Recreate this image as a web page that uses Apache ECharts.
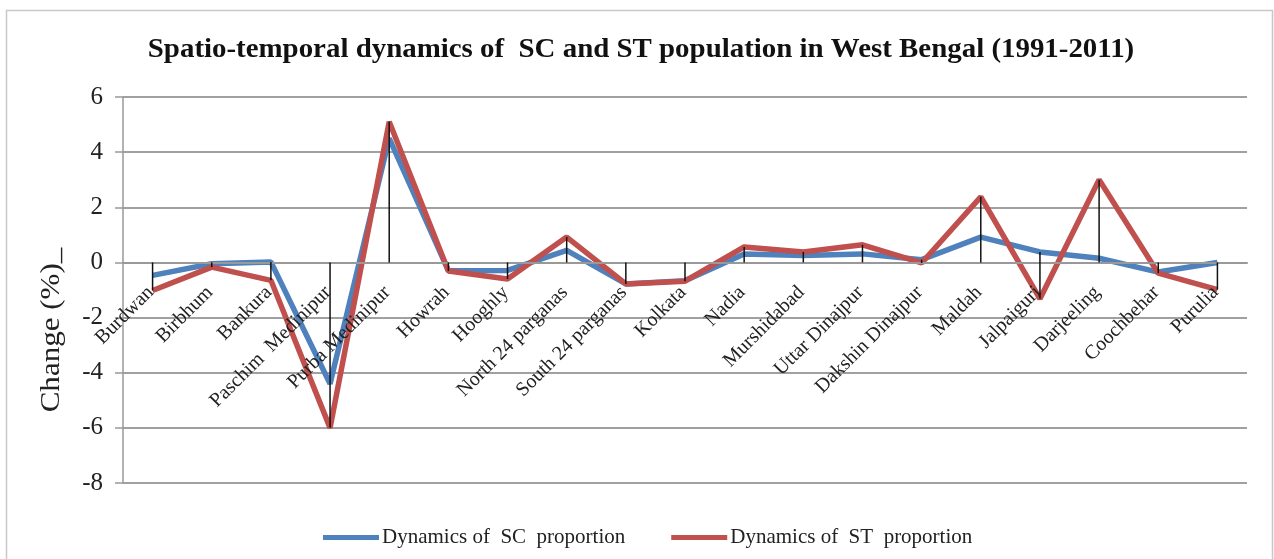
<!DOCTYPE html>
<html>
<head>
<meta charset="utf-8">
<script src="https://cdn.jsdelivr.net/npm/echarts@6/dist/echarts.min.js"></script>
<style>
  html, body { margin: 0; padding: 0; background: #fff; }
  #chart { width: 1274px; height: 559px; }
</style>
</head>
<body>
<div id="chart"></div>
<script>
// Districts of West Bengal
const districts = [
  'Burdwan', 'Birbhum', 'Bankura', 'Paschim  Medinipur', 'Purba Medinipur',
  'Howrah', 'Hooghly', 'North 24 parganas', 'South 24 parganas', 'Kolkata',
  'Nadia', 'Murshidabad', 'Uttar Dinajpur', 'Dakshin Dinajpur', 'Maldah',
  'Jalpaiguri', 'Darjeeling', 'Coochbehar', 'Purulia'
];

// Change in proportion (percentage points), 1991-2011
const scChange = [
  -0.47, -0.05, 0.02, -4.4, 4.5,
  -0.3, -0.29, 0.44, -0.78, -0.66,
  0.31, 0.25, 0.31, 0.1, 0.92,
  0.38, 0.15, -0.35, 0.0
];
const stChange = [
  -1.02, -0.17, -0.65, -6.0, 5.1,
  -0.31, -0.6, 0.92, -0.78, -0.68,
  0.56, 0.38, 0.64, -0.02, 2.38,
  -1.32, 3.0, -0.39, -0.99
];

const yTicks = { min: -8, max: 6, interval: 2 };

const serif = '"Liberation Serif", "Times New Roman", serif';
const SC_COLOR = '#4F81BD';
const ST_COLOR = '#C0504D';

// high-low span per district (including the zero baseline)
const spans = districts.map((d, i) => [
  i,
  Math.min(0, scChange[i], stChange[i]),
  Math.max(0, scChange[i], stChange[i])
]);

const chart = echarts.init(document.getElementById('chart'), null, { renderer: 'canvas' });

chart.setOption({
  animation: false,
  backgroundColor: '#fff',
  graphic: [
    {
      type: 'rect',
      shape: { x: 6.5, y: 10.5, width: 1266, height: 560 },
      style: { fill: 'none', stroke: '#c8c8c8', lineWidth: 1.5 },
      z: -10
    },
    {
      // chart title, set slightly wide
      type: 'text',
      x: 641, y: 50,
      scaleX: 1.07,
      style: {
        text: 'Spatio-temporal dynamics of  SC and ST population in West Bengal (1991-2011)',
        font: 'bold 27px ' + serif,
        fill: '#111',
        align: 'center',
        verticalAlign: 'middle'
      }
    },
    {
      // y-axis title
      type: 'text',
      x: 52, y: 330,
      rotation: Math.PI / 2,
      scaleX: 1.15,
      style: {
        text: 'Change (%)_',
        font: '27px ' + serif,
        fill: '#222',
        align: 'center',
        verticalAlign: 'middle'
      }
    }
  ],
  legend: {
    left: 318,
    top: 522,
    itemWidth: 56,
    itemHeight: 5,
    itemGap: 46,
    icon: 'rect',
    textStyle: { fontFamily: serif, fontSize: 21, color: '#222', padding: [0, 0, 0, -2] },
    data: ['Dynamics of  SC  proportion', 'Dynamics of  ST  proportion']
  },
  grid: { left: 123, right: 27, top: 97, bottom: 76, outerBoundsMode: 'none', containLabel: false },
  xAxis: {
    type: 'category',
    data: districts,
    boundaryGap: true,
    axisLine: { onZero: true, lineStyle: { color: '#999', width: 2 } },
    axisTick: { show: false },
    axisLabel: { show: false },
    z: 5
  },
  yAxis: {
    type: 'value',
    min: yTicks.min,
    max: yTicks.max,
    interval: yTicks.interval,
    axisLine: { show: true, lineStyle: { color: '#999', width: 1.5 } },
    axisTick: { show: true, length: 8, lineStyle: { color: '#999', width: 1.5 } },
    axisLabel: { fontFamily: serif, fontSize: 25, color: '#222', margin: 20 },
    splitLine: { lineStyle: { color: '#a0a0a0', width: 2 } }
  },
  series: [
    {
      name: 'Dynamics of  SC  proportion',
      type: 'line',
      data: scChange,
      showSymbol: false,
      symbol: 'none',
      lineStyle: { color: SC_COLOR, width: 5.5 },
      itemStyle: { color: SC_COLOR },
      z: 3
    },
    {
      name: 'Dynamics of  ST  proportion',
      type: 'line',
      data: stChange,
      showSymbol: false,
      symbol: 'none',
      lineStyle: { color: ST_COLOR, width: 5.5 },
      itemStyle: { color: ST_COLOR },
      z: 4
    },
    {
      name: 'high-low',
      type: 'custom',
      data: spans,
      z: 6,
      renderItem: function (params, api) {
        const p1 = api.coord([api.value(0), api.value(1)]);
        const p2 = api.coord([api.value(0), api.value(2)]);
        return {
          type: 'line',
          shape: { x1: p1[0], y1: p1[1], x2: p2[0], y2: p2[1] },
          style: { stroke: '#111', lineWidth: 1.5 }
        };
      }
    },
    {
      // district names hang from the zero line, slanted 45°
      name: 'district-labels',
      type: 'custom',
      data: districts.map((d, i) => [i, 0]),
      z: 7,
      silent: true,
      renderItem: function (params, api) {
        const p = api.coord([api.value(0), api.value(1)]);
        return {
          type: 'text',
          x: p[0] - 2,
          y: p[1] + 27,
          rotation: Math.PI / 4,
          style: {
            text: districts[params.dataIndex],
            font: '20px ' + serif,
            fill: '#222',
            align: 'right',
            verticalAlign: 'middle'
          }
        };
      }
    }
  ]
});
</script>
</body>
</html>
